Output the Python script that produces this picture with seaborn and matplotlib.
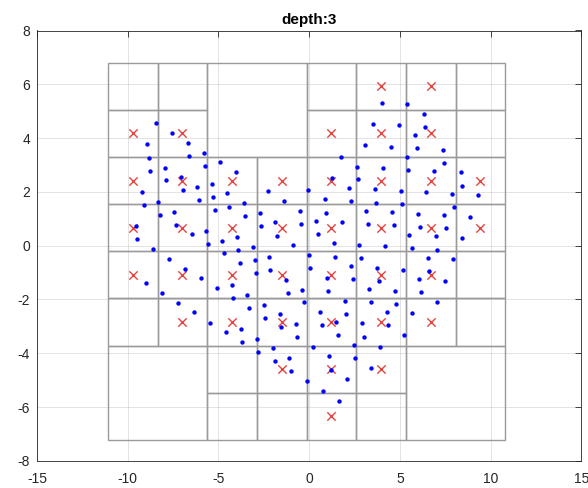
import matplotlib
matplotlib.use("Agg")
import matplotlib.pyplot as plt
from matplotlib.patches import Rectangle
import seaborn as sns
import pandas as pd

# ---- data -------------------------------------------------------------
pts_x = [-8.46, -7.58, -8.92, -6.69, -5.81, -6.61, -8.83, -5.72, -7.95, -8.76,
         -7.06, -7.87, -5.38, -6.18, -6.98, -9.21, -6.09, -8.31, -9.10, -8.24,
         -7.43, -9.56, -7.36, -5.67, -6.46, -9.49, -5.56, -8.61,
         -4.93, -4.03, -4.51, -5.28, -2.27, -0.05, -3.61, -4.40, -1.41, -5.21,
         -2.73, -0.51, -3.52, -1.87, -2.64, -0.44, -3.99, -1.76, -4.79, -0.88,
         -3.10, -3.91, -4.69,
         3.99, 5.41, 3.53, 4.96, 3.09, 4.51, 1.74, 5.41, 2.63, 4.07,
         5.44, 1.27, 2.71, 2.18, 3.61, 5.04, 0.85, 2.29, 3.68, 5.11,
         0.91, 3.15, 4.58, 0.38, 1.82, 3.22, 4.66, 0.47, 5.50, 1.35,
         2.76, 4.19,
         6.31, 6.38, 5.85, 5.94, 7.37, 7.44, 6.89, 8.35, 8.44, 6.45,
         7.88, 9.32, 7.96, 6.01, 7.43, 8.86, 6.09, 7.52, 6.97, 8.40,
         5.65, 7.06,
         -7.73, -6.84, -5.96, -8.99, -8.09, -7.21, -6.35, -5.47,
         -2.22, -0.03, -3.81, -3.00, -2.14, -2.95, 0.06, -1.26, -4.27, -5.06,
         -3.40, -1.17, -0.38, -4.18, -0.27, -3.32, -2.51, -1.63, -2.42, -1.54,
         -0.74, -3.76, -4.56, -0.66, -2.87, -3.68, -1.99, -2.80, -1.11, -1.91,
         -1.03, -0.14,
         1.44, 2.87, 2.32, 3.74, 5.17, 0.96, 2.40, 3.83, 1.06, 3.28,
         4.71, 1.95, 3.38, 4.80, 0.60, 2.03, 4.26, 0.69, 1.48, 2.92,
         4.34, 1.58, 3.00, 5.24, 0.23, 2.47, 3.90, 1.11, 2.54, 1.22,
         3.42, 2.09, 0.74, 1.63,
         6.52, 7.94, 6.60, 6.05, 7.47, 6.14, 7.03, 5.68]
pts_y = [4.55, 4.19, 3.77, 3.82, 3.46, 3.34, 3.26, 2.97, 2.90, 2.79,
         2.54, 2.43, 2.31, 2.18, 2.07, 2.00, 1.70, 1.64, 1.50, 1.14,
         1.26, 0.73, 0.78, 0.55, 0.42, 0.24, 0.06, -0.13,
         3.11, 2.74, 1.95, 1.82, 2.02, 2.07, 1.59, 1.45, 1.65, 1.34,
         1.23, 1.29, 1.09, 0.87, 0.73, 0.81, 0.31, 0.37, 0.19, 0.02,
         -0.05, -0.17, -0.28,
         5.32, 5.25, 4.52, 4.48, 3.74, 3.67, 3.30, 3.31, 2.94, 2.88,
         2.81, 2.50, 2.47, 2.15, 2.10, 2.05, 1.73, 1.67, 1.60, 1.55,
         1.23, 1.30, 1.25, 0.93, 0.87, 0.81, 0.76, 0.44, 0.39, 0.09,
         0.03, -0.02,
         4.90, 4.41, 4.12, 3.62, 3.56, 3.09, 2.78, 2.73, 2.23, 1.99,
         1.92, 1.87, 1.45, 1.19, 1.13, 1.08, 0.71, 0.66, 0.35, 0.30,
         -0.09, -0.15,
         -0.49, -0.86, -1.21, -1.40, -1.76, -2.12, -2.48, -2.86,
         -0.42, -0.36, -0.65, -0.54, -0.90, -1.03, -0.84, -1.26, -1.46, -1.58,
         -1.82, -1.75, -1.64, -1.94, -2.10, -2.32, -2.19, -2.55, -2.67, -3.03,
         -2.91, -3.10, -3.22, -3.39, -3.46, -3.58, -3.81, -3.94, -4.18, -4.30,
         -4.67, -5.02,
         -0.41, -0.47, -0.77, -0.83, -0.89, -1.20, -1.25, -1.31, -1.68, -1.62,
         -1.67, -2.05, -2.10, -2.16, -2.47, -2.53, -2.47, -2.96, -2.84, -2.89,
         -2.95, -3.33, -3.38, -3.32, -3.76, -3.69, -3.76, -4.11, -4.18, -4.63,
         -4.54, -4.97, -5.39, -5.76,
         -0.46, -0.51, -0.94, -1.25, -1.30, -1.73, -2.09, -2.51]

# quadtree bounding box and structure
box_x = [-11.09, 10.80]
box_y = [-7.22, 6.80]
max_depth = 3
unsplit_nodes = ["TL/TR", "BL/BL", "BR/BR"]   # depth-2 nodes left whole

# leaf cells (depth 3) holding points: column / row (row 0 = top)
cross_col = [5, 6,
             0, 1, 4, 5, 6,
             0, 1, 2, 3, 4, 5, 6, 7,
             0, 1, 2, 3, 4, 5, 6, 7,
             0, 1, 2, 3, 4, 5, 6,
             1, 2, 3, 4, 5, 6,
             3, 4, 5,
             4]
cross_row = [0, 0,
             1, 1, 1, 1, 1,
             2, 2, 2, 2, 2, 2, 2, 2,
             3, 3, 3, 3, 3, 3, 3, 3,
             4, 4, 4, 4, 4, 4, 4,
             5, 5, 5, 5, 5, 5,
             6, 6, 6,
             7]

title = "depth:3"
xticks = [-15, -10, -5, 0, 5, 10, 15]
yticks = [-8, -6, -4, -2, 0, 2, 4, 6, 8]

# ---- figure -----------------------------------------------------------
sns.set_style("white")
plt.rcParams['font.family'] = ['Liberation Sans', 'DejaVu Sans']

W, H = 588, 488
fig = plt.figure(figsize=(W / 100, H / 100), dpi=100)
ax = fig.add_axes([36.95 / W, 1 - 460.9 / H, 544.5 / W, 430.4 / H])

ink = (0.15, 0.15, 0.15)

# quadtree leaves
leaves = []
def split(x0, x1, y0, y1, depth, path):
    if depth == max_depth or path in unsplit_nodes:
        leaves.append((x0, x1, y0, y1))
        return
    xm, ym = (x0 + x1) / 2, (y0 + y1) / 2
    sub = {"TL": (x0, xm, ym, y1), "TR": (xm, x1, ym, y1),
           "BL": (x0, xm, y0, ym), "BR": (xm, x1, y0, ym)}
    for k, (a, b, c, d) in sub.items():
        split(a, b, c, d, depth + 1, (path + "/" + k) if path else k)

split(box_x[0], box_x[1], box_y[0], box_y[1], 0, "")
for (x0, x1, y0, y1) in leaves:
    ax.add_patch(Rectangle((x0, y0), x1 - x0, y1 - y0, fill=False,
                           edgecolor="#9a9a9a", linewidth=1.0, zorder=2))

n = 2 ** max_depth
cw = (box_x[1] - box_x[0]) / n
rh = (box_y[1] - box_y[0]) / n
cross_df = pd.DataFrame({
    "x": [box_x[0] + (c + 0.5) * cw for c in cross_col],
    "y": [box_y[1] - (r + 0.5) * rh for r in cross_row],
})
pts_df = pd.DataFrame({"x": pts_x, "y": pts_y})

sns.scatterplot(data=cross_df, x="x", y="y", marker="x", s=36,
                color="#e4433f", linewidth=1.0, ax=ax, zorder=3, legend=False)
sns.scatterplot(data=pts_df, x="x", y="y", marker="o", s=10,
                color="#0000ff", linewidth=0, ax=ax, zorder=4, legend=False)

ax.set_xlim(-15, 15)
ax.set_ylim(-8, 8)
ax.set_xticks(xticks)
ax.set_yticks(yticks)
ax.set_xticklabels([str(t) for t in xticks])
ax.set_yticklabels([str(t) for t in yticks])
ax.set_xlabel("")
ax.set_ylabel("")
ax.grid(True, color=ink, alpha=0.15, linewidth=0.6, zorder=0)
ax.set_axisbelow(True)
for s in ax.spines.values():
    s.set_color(ink)
    s.set_linewidth(0.6)
    s.set_visible(True)
ax.tick_params(direction="in", length=4, width=0.6, colors=ink,
               labelsize=10, top=True, right=True,
               labeltop=False, labelright=False)
ax.tick_params(axis="x", pad=8)
ax.tick_params(axis="y", pad=5)
ax.set_title(title, fontsize=11, fontweight="bold", color="black", pad=5)

fig.savefig("out.png", dpi=100)
